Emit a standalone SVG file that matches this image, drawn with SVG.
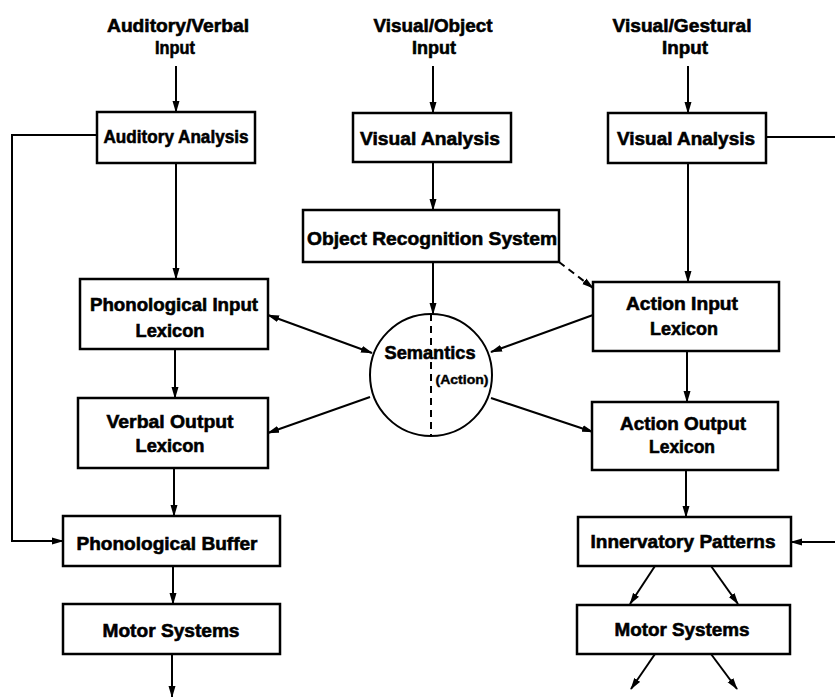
<svg xmlns="http://www.w3.org/2000/svg" width="835" height="697" viewBox="0 0 835 697">
<style>
.box{fill:#fff;stroke:#000;stroke-width:2.5}
.t{font-family:"Liberation Sans",Arial,sans-serif;font-weight:bold;font-size:19px;fill:#000;stroke:#000;stroke-width:0.6;text-anchor:middle}
.s{font-size:12.5px;stroke-width:0.4}
.c{fill:none;stroke:#000;stroke-width:2}
.d{stroke-dasharray:7,5}
</style>
<defs>
<marker id="ah" markerUnits="userSpaceOnUse" markerWidth="12" markerHeight="8" refX="11" refY="4" orient="auto">
<path d="M0,0.5 L12,4 L0,7.5 z" fill="#000"/>
</marker>
<marker id="as" markerUnits="userSpaceOnUse" markerWidth="12" markerHeight="8" refX="1" refY="4" orient="auto">
<path d="M12,0.5 L0,4 L12,7.5 z" fill="#000"/>
</marker>
</defs>
<g id="labels">
<text class="t" x="178" y="32" textLength="142" lengthAdjust="spacingAndGlyphs">Auditory/Verbal</text>
<text class="t" x="175" y="54" textLength="40" lengthAdjust="spacingAndGlyphs">Input</text>
<text class="t" x="433" y="32" textLength="119" lengthAdjust="spacingAndGlyphs">Visual/Object</text>
<text class="t" x="434" y="54" textLength="44" lengthAdjust="spacingAndGlyphs">Input</text>
<text class="t" x="682" y="32" textLength="139" lengthAdjust="spacingAndGlyphs">Visual/Gestural</text>
<text class="t" x="685" y="54" textLength="46" lengthAdjust="spacingAndGlyphs">Input</text>
</g>
<g id="connectors">
<line class="c" x1="176" y1="66" x2="176" y2="112" marker-end="url(#ah)"/>
<line class="c" x1="433" y1="66" x2="433" y2="113" marker-end="url(#ah)"/>
<line class="c" x1="688" y1="66" x2="688" y2="113" marker-end="url(#ah)"/>
<polyline class="c" points="97,135 12,135 12,541 63,541" marker-end="url(#ah)"/>
<line class="c" x1="176" y1="163" x2="176" y2="279" marker-end="url(#ah)"/>
<line class="c" x1="175" y1="349" x2="175" y2="398" marker-end="url(#ah)"/>
<line class="c" x1="174" y1="468" x2="174" y2="516" marker-end="url(#ah)"/>
<line class="c" x1="173" y1="566" x2="173" y2="604" marker-end="url(#ah)"/>
<line class="c" x1="172" y1="654" x2="172" y2="697" marker-end="url(#ah)"/>
<line class="c" x1="433" y1="162" x2="433" y2="210" marker-end="url(#ah)"/>
<line class="c" x1="433" y1="262" x2="433" y2="314" marker-end="url(#ah)"/>
<line class="c d" x1="431" y1="314" x2="431" y2="436"/>
<line class="c d" x1="559" y1="262" x2="593" y2="288" marker-end="url(#ah)"/>
<line class="c" x1="268" y1="315" x2="372" y2="353" marker-start="url(#as)" marker-end="url(#ah)"/>
<line class="c" x1="370" y1="397" x2="268" y2="433" marker-end="url(#ah)"/>
<line class="c" x1="593" y1="315" x2="491" y2="352" marker-end="url(#ah)"/>
<line class="c" x1="491" y1="398" x2="593" y2="432" marker-end="url(#ah)"/>
<line class="c" x1="766" y1="137" x2="835" y2="137"/>
<line class="c" x1="688" y1="163" x2="688" y2="282" marker-end="url(#ah)"/>
<line class="c" x1="687" y1="351" x2="687" y2="402" marker-end="url(#ah)"/>
<line class="c" x1="686" y1="470" x2="686" y2="517" marker-end="url(#ah)"/>
<line class="c" x1="835" y1="542" x2="791" y2="542" marker-end="url(#ah)"/>
<line class="c" x1="655" y1="566" x2="630" y2="604" marker-end="url(#ah)"/>
<line class="c" x1="711" y1="566" x2="738" y2="604" marker-end="url(#ah)"/>
<line class="c" x1="655" y1="654" x2="631" y2="689" marker-end="url(#ah)"/>
<line class="c" x1="711" y1="654" x2="737" y2="689" marker-end="url(#ah)"/>
</g>
<g id="auditory-analysis">
<rect class="box" x="97" y="112" width="158" height="51"/>
<text class="t" x="176" y="143" textLength="145" lengthAdjust="spacingAndGlyphs">Auditory Analysis</text>
</g>
<g id="visual-analysis-object">
<rect class="box" x="353" y="113" width="158" height="49"/>
<text class="t" x="430" y="145" textLength="140" lengthAdjust="spacingAndGlyphs">Visual Analysis</text>
</g>
<g id="visual-analysis-gestural">
<rect class="box" x="608" y="113" width="158" height="50"/>
<text class="t" x="686" y="145" textLength="138" lengthAdjust="spacingAndGlyphs">Visual Analysis</text>
</g>
<g id="object-recognition">
<rect class="box" x="303" y="210" width="256" height="52"/>
<text class="t" x="432" y="245" textLength="250" lengthAdjust="spacingAndGlyphs">Object Recognition System</text>
</g>
<g id="phonological-input-lexicon">
<rect class="box" x="80" y="279" width="188" height="70"/>
<text class="t" x="174" y="311" textLength="168" lengthAdjust="spacingAndGlyphs">Phonological Input</text>
<text class="t" x="170" y="337" textLength="69" lengthAdjust="spacingAndGlyphs">Lexicon</text>
</g>
<g id="verbal-output-lexicon">
<rect class="box" x="78" y="398" width="190" height="70"/>
<text class="t" x="170" y="428" textLength="127" lengthAdjust="spacingAndGlyphs">Verbal Output</text>
<text class="t" x="170" y="452" textLength="69" lengthAdjust="spacingAndGlyphs">Lexicon</text>
</g>
<g id="semantics">
<circle cx="431" cy="375" r="61" fill="none" stroke="#000" stroke-width="2"/>
<text class="t" x="430" y="359" textLength="91" lengthAdjust="spacingAndGlyphs">Semantics</text>
<text class="t s" x="462" y="384" textLength="53" lengthAdjust="spacingAndGlyphs">(Action)</text>
</g>
<g id="action-input-lexicon">
<rect class="box" x="593" y="282" width="186" height="69"/>
<text class="t" x="682" y="310" textLength="112" lengthAdjust="spacingAndGlyphs">Action Input</text>
<text class="t" x="684" y="335" textLength="68" lengthAdjust="spacingAndGlyphs">Lexicon</text>
</g>
<g id="action-output-lexicon">
<rect class="box" x="592" y="402" width="186" height="68"/>
<text class="t" x="683" y="430" textLength="126" lengthAdjust="spacingAndGlyphs">Action Output</text>
<text class="t" x="682" y="453" textLength="66" lengthAdjust="spacingAndGlyphs">Lexicon</text>
</g>
<g id="phonological-buffer">
<rect class="box" x="63" y="516" width="217" height="50"/>
<text class="t" x="167" y="550" textLength="181" lengthAdjust="spacingAndGlyphs">Phonological Buffer</text>
</g>
<g id="motor-systems-left">
<rect class="box" x="63" y="604" width="217" height="50"/>
<text class="t" x="171" y="637" textLength="137" lengthAdjust="spacingAndGlyphs">Motor Systems</text>
</g>
<g id="innervatory-patterns">
<rect class="box" x="578" y="517" width="213" height="49"/>
<text class="t" x="683" y="548" textLength="185" lengthAdjust="spacingAndGlyphs">Innervatory Patterns</text>
</g>
<g id="motor-systems-right">
<rect class="box" x="577" y="605" width="213" height="49"/>
<text class="t" x="682" y="636" textLength="135" lengthAdjust="spacingAndGlyphs">Motor Systems</text>
</g>
</svg>
